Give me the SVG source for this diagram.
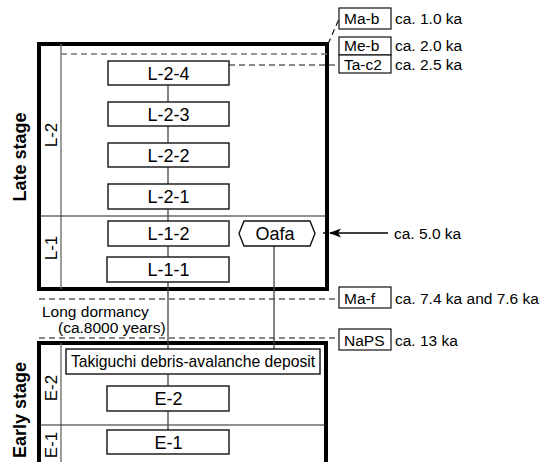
<svg xmlns="http://www.w3.org/2000/svg" width="550" height="462" viewBox="0 0 550 462">
<style>
text{font-family:"Liberation Sans",Arial,sans-serif;fill:#000}
.n{font-size:18px;text-anchor:middle}
.s{font-size:15.5px}
.st{font-size:18px;font-weight:bold;text-anchor:middle}
.sub{font-size:17px;text-anchor:middle}
.box{fill:#fff;stroke:#111;stroke-width:1.4}
.tb{fill:#fff;stroke:#111;stroke-width:1.2}
.frame{fill:none;stroke:#000;stroke-width:4}
.thin{stroke:#222;stroke-width:1.2;fill:none}
.grey{stroke:#666;stroke-width:1.3;fill:none}
.dash{stroke:#111;stroke-width:1.2;stroke-dasharray:6,4;fill:none}
.gdash{stroke:#777;stroke-width:1.3;stroke-dasharray:6,4;fill:none}
.conn{stroke:#444;stroke-width:1.3;fill:none}
</style>
<defs>
<marker id="ah" markerWidth="12" markerHeight="10" refX="11" refY="5" orient="auto" markerUnits="userSpaceOnUse">
<path d="M0,0.5 L12,5 L0,9.5 L3,5 Z" fill="#000"/>
</marker>
</defs>

<g id="frames">
<rect class="frame" x="39" y="44" width="288" height="245"/>
<line class="grey" x1="61" y1="44" x2="61" y2="289"/>
<line class="thin" x1="39" y1="216" x2="327" y2="216"/>
<path class="frame" d="M39,470 V343 H326 V470"/>
<line class="grey" x1="61" y1="343" x2="61" y2="462"/>
<line class="thin" x1="39" y1="425" x2="326" y2="425"/>
</g>

<g id="connectors">
<line class="gdash" x1="61" y1="54" x2="327" y2="54"/>
<line class="dash" x1="328" y1="44" x2="339" y2="19"/>
<line class="dash" x1="229" y1="65" x2="339" y2="65"/>
<line class="dash" x1="39" y1="299" x2="339" y2="299"/>
<line class="dash" x1="39" y1="338" x2="339" y2="338"/>
<line class="conn" x1="168" y1="85" x2="168" y2="430"/>
<line class="conn" stroke="#222" x1="274" y1="246" x2="274" y2="349"/>
<line stroke="#000" stroke-width="1.4" x1="388" y1="233" x2="330" y2="233" marker-end="url(#ah)"/>
<line stroke="#000" stroke-width="1.4" x1="323" y1="233" x2="326" y2="233"/>
</g>

<g id="labels">
<text class="st" transform="translate(26,157) rotate(-90)">Late stage</text>
<text class="st" transform="translate(26,410) rotate(-90)">Early stage</text>
<text class="sub" transform="translate(57,135) rotate(-90)">L-2</text>
<text class="sub" transform="translate(57,248) rotate(-90)">L-1</text>
<text class="sub" transform="translate(57,388) rotate(-90)">E-2</text>
<text class="sub" transform="translate(57,445) rotate(-90)">E-1</text>
<text class="s" x="42" y="317">Long dormancy</text>
<text class="s" x="58" y="333">(ca.8000 years)</text>
</g>

<g id="L-2-4"><rect class="box" x="108" y="61" width="121" height="24"/><text class="n" x="168.5" y="79.5">L-2-4</text></g>
<g id="L-2-3"><rect class="box" x="108" y="102" width="121" height="24"/><text class="n" x="168.5" y="120.5">L-2-3</text></g>
<g id="L-2-2"><rect class="box" x="108" y="143" width="121" height="24"/><text class="n" x="168.5" y="161.5">L-2-2</text></g>
<g id="L-2-1"><rect class="box" x="108" y="184" width="121" height="25"/><text class="n" x="168.5" y="203">L-2-1</text></g>
<g id="L-1-2"><rect class="box" x="108" y="221" width="121" height="25"/><text class="n" x="168.5" y="240">L-1-2</text></g>
<g id="L-1-1"><rect class="box" x="107" y="257" width="122" height="25"/><text class="n" x="168.5" y="276">L-1-1</text></g>
<g id="Oafa"><path class="box" d="M239,233.5 L244,221 H310 L315,233.5 L310,246 H244 Z"/><text class="n" x="275" y="240">Oafa</text></g>
<g id="Takiguchi"><rect class="box" x="66" y="349" width="254" height="25"/><text class="s" x="193" y="367" text-anchor="middle" style="font-size:15.7px">Takiguchi debris-avalanche deposit</text></g>
<g id="E-2"><rect class="box" x="107" y="386" width="122" height="25"/><text class="n" x="168.5" y="405">E-2</text></g>
<g id="E-1"><rect class="box" x="107" y="430" width="122" height="24"/><text class="n" x="168.5" y="448.5">E-1</text></g>

<g id="Ma-b"><rect class="tb" x="339" y="8" width="52" height="21"/><text class="s" x="344" y="24">Ma-b</text><text class="s" x="395" y="24">ca. 1.0 ka</text></g>
<g id="Me-b"><rect class="tb" x="339" y="37" width="52" height="18"/><text class="s" x="344" y="51">Me-b</text><text class="s" x="395" y="51">ca. 2.0 ka</text></g>
<g id="Ta-c2"><rect class="tb" x="339" y="55" width="52" height="18"/><text class="s" x="344" y="69.5">Ta-c2</text><text class="s" x="395" y="69.5">ca. 2.5 ka</text></g>
<g id="t50"><text class="s" x="394" y="238.5">ca. 5.0 ka</text></g>
<g id="Ma-f"><rect class="tb" x="339" y="287" width="52" height="21"/><text class="s" x="344" y="304">Ma-f</text><text class="s" x="395" y="304">ca. 7.4 ka and 7.6 ka</text></g>
<g id="NaPS"><rect class="tb" x="339" y="329" width="52" height="21"/><text class="s" x="344" y="346">NaPS</text><text class="s" x="395" y="346">ca. 13 ka</text></g>
</svg>
